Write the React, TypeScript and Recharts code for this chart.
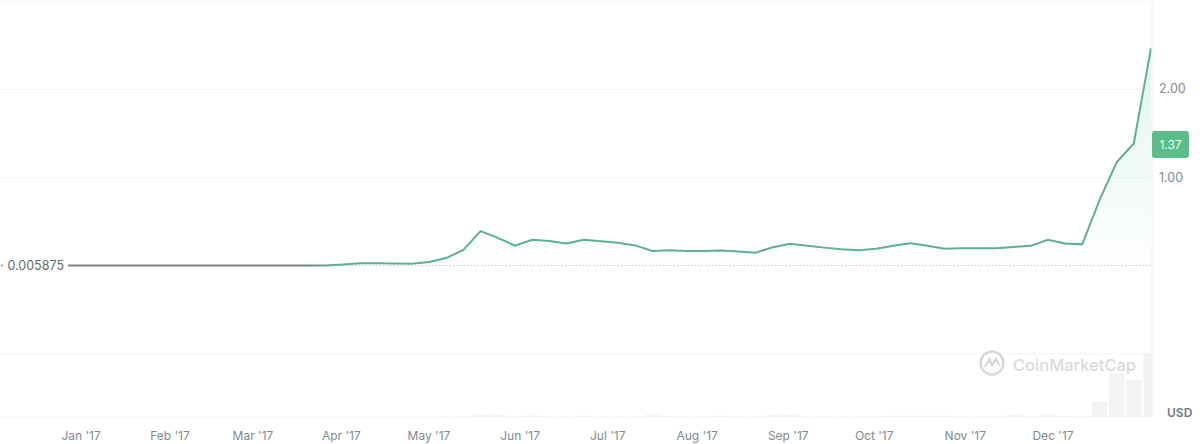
import React from "react";
import {
  ComposedChart, Area, Line, Bar, XAxis, YAxis, CartesianGrid, ReferenceLine, ReferenceDot,
} from "recharts";

const BASE = 0.005875;
const PRICE_LOW = [
  0.0059, 0.0059, 0.0059, 0.0059, 0.0059, 0.0059, 0.0059, 0.0059, 0.0059, 0.0059, 0.0059,
  0.0055, 0.0055, 0.0058, 0.0059,
];
const PRICE_HIGH = [
  0.006, 0.018, 0.03, 0.03, 0.028, 0.026, 0.046, 0.09, 0.182, 0.395, 0.318, 0.23, 0.296, 0.284,
  0.256, 0.297, 0.279, 0.262, 0.233, 0.169, 0.179, 0.171, 0.17, 0.174, 0.165, 0.151, 0.213,
  0.253, 0.228, 0.208, 0.19, 0.177, 0.194, 0.228, 0.256, 0.228, 0.194, 0.2, 0.2, 0.202, 0.216,
  0.228, 0.296, 0.256, 0.245, 0.743, 1.173, 1.388, 2.464,
];
const VOLUME = [
  0, 0, 0, 0, 0, 0, 0, 0, 0, 0, 0, 0, 0, 0, 0, 0.002, 0.002, 0.002, 0.002, 0.002, 0.002, 0.003,
  0.004, 0.006, 0.03, 0.03, 0.008, 0.025, 0.006, 0.006, 0.02, 0.006, 0.006, 0.006, 0.035, 0.01,
  0.006, 0.006, 0.02, 0.006, 0.006, 0.03, 0.03, 0.006, 0.006, 0.006, 0.006, 0.008, 0.02, 0.02,
  0.02, 0.02, 0.006, 0.006, 0.008, 0.03, 0.006, 0.03, 0.01, 0.008, 0.24, 0.7, 0.59, 1,
];
const MONTH_POS = [1.76, 6.93, 11.76, 16.9, 22, 27.3, 32.4, 37.6, 42.9, 47.9, 53.2, 58.3];
const MONTHS = ["Jan '17", "Feb '17", "Mar '17", "Apr '17", "May '17", "Jun '17", "Jul '17", "Aug '17", "Sep '17", "Oct '17", "Nov '17", "Dec '17"];
const PRICE_TICKS = [1, 1.37, 2];
const GRID_LEVELS = [3.012, 2, 1, -0.997];

const table = VOLUME.map((volume, i) => {
  const split = PRICE_LOW.length;
  return {
    step: i + 1,
    volume,
    price: i < split ? PRICE_LOW[i] : PRICE_HIGH[i - split],
    high: i >= split ? PRICE_HIGH[i - split] : null,
  };
});

const FONT = "Inter, sans-serif";
const TEXT = "#808a92";

function PriceTick(props: any) {
  const { x, y, payload } = props;
  if (payload.value === 1.37) {
    return (
      <g>
        <rect x={x - 8} y={y - 14} width={37} height={27} rx={3} fill="#5cbd8b" />
        <text x={x + 10.5} y={y + 4} textAnchor="middle" fontSize={12} fontFamily={FONT} fill="#eefaf4">1.37</text>
      </g>
    );
  }
  return (
    <text x={x - 1} y={y + 4} fontSize={12.5} fontFamily={FONT} fill={TEXT}>{payload.value.toFixed(2)}</text>
  );
}

export default function App() {
  return (
    <div style={{ position: "absolute", left: 0, top: 0, width: 1200, height: 444, background: "#fff", overflow: "hidden" }}>
      <ComposedChart width={1200} height={444} data={table} margin={{ top: 0, right: 0, bottom: 0, left: 0 }}>
        <defs>
          <linearGradient id="up" x1="0" y1="0" x2="0" y2="1">
            <stop offset="0" stopColor="#5cc99a" stopOpacity={0.3} />
            <stop offset="1" stopColor="#5cc99a" stopOpacity={0.02} />
          </linearGradient>
          <linearGradient id="stroke" x1="0" y1="0" x2="1" y2="0">
            <stop offset="0" stopColor="#7d8587" />
            <stop offset="0.225" stopColor="#7d8587" />
            <stop offset="0.245" stopColor="#5fb08f" />
            <stop offset="1" stopColor="#5fb08f" />
          </linearGradient>
        </defs>
        <CartesianGrid vertical={false} yAxisId="p" stroke="#f2f3f4" horizontalValues={GRID_LEVELS} syncWithTicks={false} />
        <XAxis
          dataKey="step" type="number" domain={[-2.956, 64.06]} ticks={MONTH_POS} height={27}
          allowDataOverflow interval={0} tickLine={false} axisLine={{ stroke: "#f0f1f2" }}
          tickFormatter={(v: number) => MONTHS[MONTH_POS.indexOf(v)]}
          tick={{ fontSize: 12, fontFamily: FONT, fill: TEXT }}
          tickMargin={8}
        />
        <YAxis
          yAxisId="p" orientation="right" domain={[-1.71, 3.012]} ticks={PRICE_TICKS} width={48}
          allowDataOverflow interval={0} tickLine={false} axisLine={{ stroke: "#f0f1f2" }} tick={<PriceTick />}
        />
        <YAxis yAxisId="v" hide domain={[0, 6.62]} allowDataOverflow />
        <Bar yAxisId="v" dataKey="volume" fill="#f2f3f4" barSize={18} isAnimationActive={false} activeBar={false} />
        <Area
          yAxisId="p" dataKey="high" type="linear" baseValue={BASE} stroke="none" fill="url(#up)"
          isAnimationActive={false} connectNulls={false} activeDot={false} dot={false}
        />
        <ReferenceLine
          yAxisId="p"
          segment={[{ x: 1, y: BASE }, { x: 64.06, y: BASE }]}
          stroke="#c4c8cc" strokeDasharray="1.5 2"
          label={{ value: "0.005875", position: "left", fontSize: 12.5, fontFamily: FONT, fill: "#5f6b75", offset: 4 }}
        />
        <ReferenceDot yAxisId="p" x={-2.84} y={BASE} r={1} fill="#808a92" stroke="none" />
        <Line yAxisId="p" dataKey="price" type="linear" stroke="url(#stroke)" strokeWidth={2} dot={false} activeDot={false} isAnimationActive={false} />
      </ComposedChart>
      <div style={{ position: "absolute", left: 1167, top: 406, fontFamily: FONT, fontSize: 12, fontWeight: 600, color: "#6f7880", lineHeight: "14px" }}>USD</div>
      <svg style={{ position: "absolute", left: 978, top: 349 }} width={28} height={28} viewBox="0 0 28 28">
        <circle cx={14} cy={14} r={11.5} fill="none" stroke="#d3d5d7" strokeWidth={2.2} />
        <path d="M7 18 L11.5 10 L14 16 L18 10 Q20 15 22 16" fill="none" stroke="#d3d5d7" strokeWidth={2} />
      </svg>
      <div style={{ position: "absolute", left: 1013, top: 355, fontFamily: FONT, fontSize: 16.5, fontWeight: 500, color: "#d8dadc", lineHeight: "20px", whiteSpace: "nowrap" }}>CoinMarketCap</div>
    </div>
  );
}
